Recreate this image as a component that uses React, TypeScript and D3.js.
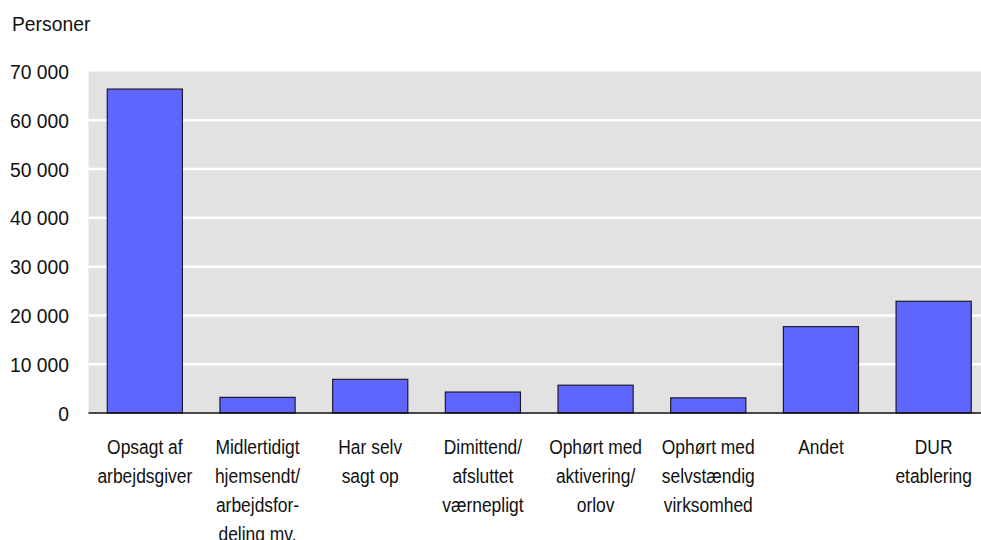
import React from "react";
import * as d3 from "d3";

// data
const categories = [
  ["Opsagt af", "arbejdsgiver"],
  ["Midlertidigt", "hjemsendt/", "arbejdsfor-", "deling mv."],
  ["Har selv", "sagt op"],
  ["Dimittend/", "afsluttet", "værnepligt"],
  ["Ophørt med", "aktivering/", "orlov"],
  ["Ophørt med", "selvstændig", "virksomhed"],
  ["Andet"],
  ["DUR", "etablering"],
];
const values = [66400, 3200, 6900, 4300, 5700, 3100, 17700, 22900];
const yTicks = [0, 10000, 20000, 30000, 40000, 50000, 60000, 70000];

const W = 981;
const H = 540;
const FONT = "'Liberation Sans', Arial, sans-serif";
const FS = 21;

const fmt = (v: number) => d3.format(",")(v).replace(/,/g, " ");

// the reference uses a condensed face, so squeeze the text horizontally
function Label(props: { x: number; y: number; sx: number; anchor?: string; dy?: string; children: React.ReactNode }) {
  return (
    <text
      transform={`translate(${props.x},${props.y}) scale(${props.sx},1)`}
      dy={props.dy}
      textAnchor={props.anchor || "start"}
      fontSize={FS}
      fill="#111"
    >
      {props.children}
    </text>
  );
}

export default function App() {
  const x = d3
    .scaleBand<number>()
    .domain(d3.range(categories.length))
    .range([88.5, 990])
    .paddingInner(1 / 3)
    .paddingOuter(1 / 6);
  const y = d3.scaleLinear().domain([0, 70000]).range([413, 71.5]);

  return (
    <div style={{ position: "absolute", left: 0, top: 0 }}>
      <svg width={W} height={H} style={{ display: "block", fontFamily: FONT }}>
        <rect width={W} height={H} fill="#fff" />
        <Label x={12} y={31} sx={0.92}>
          Personer
        </Label>

        {/* plot background */}
        <rect x={88.5} y={y(70000)} width={990 - 88.5} height={y(0) - y(70000)} fill="#e2e2e2" />

        {/* gridlines */}
        {yTicks
          .filter((t) => t > 0 && t < 70000)
          .map((t) => (
            <line key={t} x1={88.5} x2={990} y1={y(t)} y2={y(t)} stroke="#fff" strokeWidth={2.5} />
          ))}

        {/* y tick labels */}
        {yTicks.map((t) => (
          <Label key={t} x={69} y={y(t)} sx={0.92} dy="0.36em" anchor="end">
            {fmt(t)}
          </Label>
        ))}

        {/* bars */}
        {values.map((v, i) => (
          <rect
            key={i}
            x={x(i)!}
            y={y(v)}
            width={x.bandwidth()}
            height={y(0) - y(v)}
            fill="#5f66ff"
            stroke="#1a1a2a"
            strokeWidth={1.2}
          />
        ))}

        {/* baseline */}
        <line x1={88.5} x2={W} y1={y(0)} y2={y(0)} stroke="#111" strokeWidth={1.5} />

        {/* category labels */}
        {categories.map((lines, i) => (
          <Label key={i} x={x(i)! + x.bandwidth() / 2} y={454} sx={0.83} anchor="middle">
            {lines.map((l, j) => (
              <tspan key={j} x={0} dy={j === 0 ? 0 : 29}>
                {l}
              </tspan>
            ))}
          </Label>
        ))}
      </svg>
    </div>
  );
}
